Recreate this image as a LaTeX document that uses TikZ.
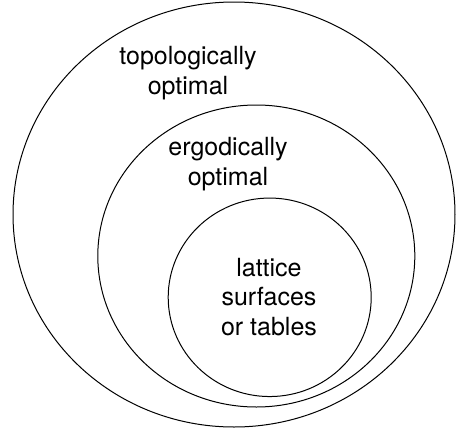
\documentclass[tikz,border=0pt]{standalone}
\usepackage{fontspec}
\setmainfont{TeX Gyre Heros}
\usetikzlibrary{shapes.geometric}
\tikzset{
  setring/.style={draw=black, line width=1pt, ellipse, inner sep=0pt},
  setlabel/.style={align=center, inner sep=0pt, font=\fontsize{25}{29.5}\selectfont}
}
\begin{document}
\begin{tikzpicture}[x=1pt, y=-1pt]
\useasboundingbox (0,0) rectangle (456,432);
\node[setring, minimum width=442pt, minimum height=425pt] (outer) at (234,214.5) {};
\node[setring, minimum width=317pt, minimum height=302pt] (middle) at (256.3,256) {};
\node[setring, minimum width=203pt, minimum height=198.5pt] (inner) at (269.7,297.3) {};
\node[setlabel] (topo) at (188,73) {topologically\\optimal};
\node[setlabel] (ergo) at (228,164) {ergodically\\optimal};
\node[setlabel] (latt) at (269,297) {lattice\\surfaces\\or tables};
\end{tikzpicture}
\end{document}
